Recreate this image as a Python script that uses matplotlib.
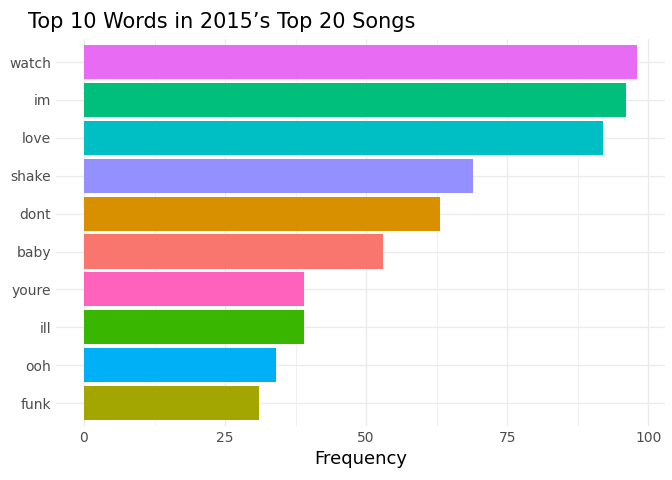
import matplotlib
matplotlib.use("Agg")
import matplotlib.pyplot as plt
from matplotlib.ticker import MultipleLocator

words = ["funk", "ooh", "ill", "youre", "baby", "dont", "shake", "love", "im", "watch"]
freq = [31, 34, 39, 39, 53, 63, 69, 92, 96, 98]
colors = ["#A3A500", "#00B0F6", "#39B600", "#FF62BC", "#F8766D", "#D89000",
          "#9590FF", "#00BFC4", "#00BF7D", "#E76BF3"]

fig = plt.figure(figsize=(6.72, 4.8), dpi=100)
ax = fig.add_axes([0.083, 0.113, 0.907, 0.805])
y = list(range(1, len(words) + 1))
ax.barh(y, freq, height=0.9, color=colors, zorder=2)
ax.set_xlim(-5, 103)
ax.set_ylim(0.4, 10.6)
ax.set_yticks(y)
ax.set_yticklabels(words)
ax.xaxis.set_major_locator(MultipleLocator(25))
ax.xaxis.set_minor_locator(MultipleLocator(12.5))
ax.grid(which="major", color="#EBEBEB", linewidth=1.0, zorder=0)
ax.grid(which="minor", axis="x", color="#EBEBEB", linewidth=0.5, zorder=0)
for s in ax.spines.values():
    s.set_visible(False)
ax.tick_params(which="both", length=0, labelsize=10, labelcolor="#4D4D4D")
ax.set_xlabel("Frequency", fontsize=13, labelpad=4)
fig.text(0.042, 0.955, "Top 10 Words in 2015\u2019s Top 20 Songs", fontsize=15, va="center")
fig.savefig("out.png", dpi=100)
